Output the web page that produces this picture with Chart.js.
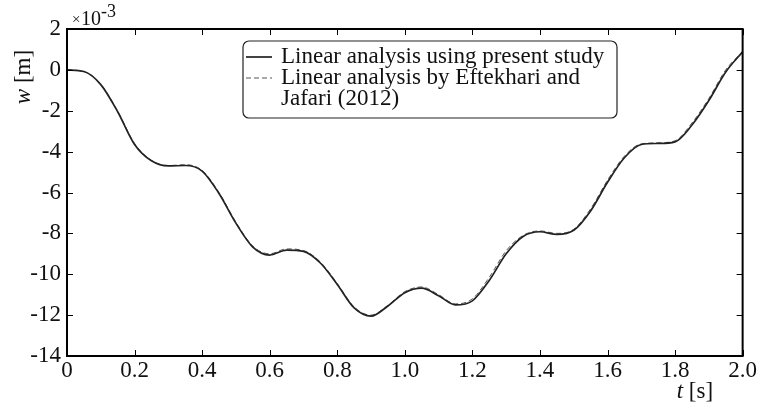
<!DOCTYPE html>
<html lang="en">
<head>
<meta charset="UTF-8">
<title>w vs t</title>
<script src="https://cdn.jsdelivr.net/npm/chart.js"></script>
<style>
  html, body { margin: 0; padding: 0; background: #fff; }
  #wrap { width: 758px; height: 407px; }
</style>
</head>
<body>
<div id="wrap"><canvas id="chart" width="758" height="407"></canvas></div>
<script>
// time [s]
const tValues = [0, 0.05, 0.1, 0.15, 0.2, 0.25, 0.3, 0.35, 0.4, 0.45, 0.5, 0.55, 0.6, 0.65, 0.7, 0.75,
  0.8, 0.85, 0.9, 0.95, 1.0, 1.05, 1.1, 1.15, 1.2, 1.25, 1.3, 1.35, 1.4, 1.45, 1.5, 1.55,
  1.6, 1.65, 1.7, 1.75, 1.8, 1.85, 1.9, 1.95, 2.0];

// deflection w, in units of 1e-3 m
const presentStudy = [0, -0.08, -0.72, -2.05, -3.65, -4.45, -4.7, -4.68, -4.95, -6.05, -7.5, -8.67, -9.06, -8.82, -8.88, -9.45,
  -10.5, -11.65, -12.05, -11.55, -10.9, -10.68, -11.05, -11.5, -11.3, -10.3, -9.0, -8.15, -7.92, -8.05, -7.85, -6.9,
  -5.5, -4.3, -3.65, -3.6, -3.52, -2.7, -1.5, -0.1, 0.88];

const eftekhariJafari = [0, -0.08, -0.7, -2.02, -3.6, -4.43, -4.68, -4.64, -4.92, -6.0, -7.45, -8.62, -9.0, -8.76, -8.84, -9.4,
  -10.45, -11.6, -12.0, -11.52, -10.85, -10.62, -11.0, -11.45, -11.2, -10.15, -8.85, -8.1, -7.88, -8.0, -7.8, -6.8,
  -5.4, -4.22, -3.62, -3.57, -3.47, -2.6, -1.4, 0.0, 0.9];

const legendLines = [
  ['Linear analysis using present study'],
  ['Linear analysis by Eftekhari and', 'Jafari (2012)']
];

const FONT = '"Liberation Serif", "DejaVu Serif", serif';

function toPoints(ys) {
  return tValues.map((t, i) => ({ x: t, y: ys[i] }));
}

// frame, inward ticks, labels and legend box
const decorations = {
  id: 'decorations',
  afterDraw(chart) {
    const ctx = chart.ctx;
    const a = chart.chartArea;
    const xs = chart.scales.x, ys = chart.scales.y;
    ctx.save();

    // inward ticks on all four sides
    ctx.strokeStyle = '#000';
    ctx.lineWidth = 1;
    ctx.beginPath();
    xs.ticks.forEach(tk => {
      const px = Math.round(xs.getPixelForValue(tk.value)) + 0.5;
      ctx.moveTo(px, a.bottom); ctx.lineTo(px, a.bottom - 6);
      ctx.moveTo(px, a.top); ctx.lineTo(px, a.top + 6);
    });
    ys.ticks.forEach(tk => {
      const py = Math.round(ys.getPixelForValue(tk.value)) + 0.5;
      ctx.moveTo(a.left, py); ctx.lineTo(a.left + 6, py);
      ctx.moveTo(a.right, py); ctx.lineTo(a.right - 6, py);
    });
    ctx.stroke();

    // frame
    ctx.lineWidth = 2;
    ctx.strokeRect(a.left, a.top, a.right - a.left, a.bottom - a.top);

    // y axis title
    ctx.fillStyle = '#111';
    ctx.save();
    ctx.translate(a.left - 43, a.top + 48);
    ctx.rotate(-Math.PI / 2);
    ctx.textBaseline = 'middle';
    ctx.textAlign = 'left';
    ctx.font = 'italic 23px ' + FONT;
    const w1 = ctx.measureText('w').width;
    ctx.font = '23px ' + FONT;
    const w2 = ctx.measureText(' [m]').width;
    let x0 = -(w1 + w2) / 2;
    ctx.font = 'italic 23px ' + FONT;
    ctx.fillText('w', x0, 0);
    ctx.font = '23px ' + FONT;
    ctx.fillText(' [m]', x0 + w1, 0);
    ctx.restore();

    // x axis title
    ctx.textBaseline = 'alphabetic';
    ctx.textAlign = 'left';
    ctx.font = 'italic 23px ' + FONT;
    ctx.fillText('t', a.right - 66, a.bottom + 42);
    const tw = ctx.measureText('t').width;
    ctx.font = '23px ' + FONT;
    ctx.fillText(' [s]', a.right - 66 + tw, a.bottom + 42);

    // scale factor
    ctx.font = '15px ' + FONT;
    ctx.fillText('\u00d7', a.left + 5, a.top - 5);
    ctx.font = '20px ' + FONT;
    ctx.fillText('10', a.left + 14, a.top - 4);
    ctx.font = '18px ' + FONT;
    ctx.fillText('-3', a.left + 34, a.top - 12);

    // legend
    const lx = a.left + 176, ly = a.top + 12, lw = 374, lh = 77, r = 6;
    ctx.lineWidth = 1.2;
    ctx.strokeStyle = '#222';
    ctx.fillStyle = '#fff';
    ctx.beginPath();
    ctx.roundRect(lx, ly, lw, lh, r);
    ctx.fill();
    ctx.stroke();

    ctx.font = '23px ' + FONT;
    ctx.fillStyle = '#111';
    let row = 0;
    chart.data.datasets.forEach((ds, i) => {
      const baseY = ly + 22 + row * 21;
      ctx.strokeStyle = ds.borderColor;
      ctx.lineWidth = ds.borderWidth;
      ctx.setLineDash(ds.borderDash || []);
      ctx.beginPath();
      ctx.moveTo(lx + 3, baseY - 6);
      ctx.lineTo(lx + 29, baseY - 6);
      ctx.stroke();
      ctx.setLineDash([]);
      legendLines[i].forEach((txt, j) => {
        ctx.fillText(txt, lx + 38, baseY + j * 21);
      });
      row += legendLines[i].length;
    });

    ctx.restore();
  }
};

const ctx = document.getElementById('chart').getContext('2d');
const chart = new Chart(ctx, {
  type: 'line',
  data: {
    datasets: [{
      label: 'Linear analysis using present study',
      data: toPoints(presentStudy),
      borderColor: '#222',
      borderWidth: 1.7,
      pointRadius: 0,
      fill: false,
      cubicInterpolationMode: 'monotone'
    }, {
      label: 'Linear analysis by Eftekhari and Jafari (2012)',
      data: toPoints(eftekhariJafari),
      borderColor: '#555',
      borderWidth: 1,
      borderDash: [5, 3],
      pointRadius: 0,
      fill: false,
      cubicInterpolationMode: 'monotone'
    }]
  },
  options: {
    responsive: false,
    animation: false,
    devicePixelRatio: 1,
    layout: { padding: { top: 29, right: 15, left: 0, bottom: 0 } },
    plugins: {
      legend: { display: false },
      tooltip: { enabled: false }
    },
    scales: {
      x: {
        type: 'linear',
        min: 0,
        max: 2,
        grid: { display: false, drawTicks: false },
        border: { display: false },
        afterFit: s => { s.height = 51; },
        ticks: {
          stepSize: 0.2,
          padding: 1,
          color: '#111',
          font: { family: FONT, size: 23 },
          maxRotation: 0,
          callback: v => (Math.abs(v) < 1e-9 ? '0' : v.toFixed(1))
        }
      },
      y: {
        type: 'linear',
        min: -14,
        max: 2,
        grid: { display: false, drawTicks: false },
        border: { display: false },
        afterFit: s => { s.width = 67; },
        ticks: {
          stepSize: 2,
          padding: 6,
          color: '#111',
          font: { family: FONT, size: 23 },
          callback: v => String(Math.round(v))
        }
      }
    }
  },
  plugins: [decorations]
});
</script>
</body>
</html>
